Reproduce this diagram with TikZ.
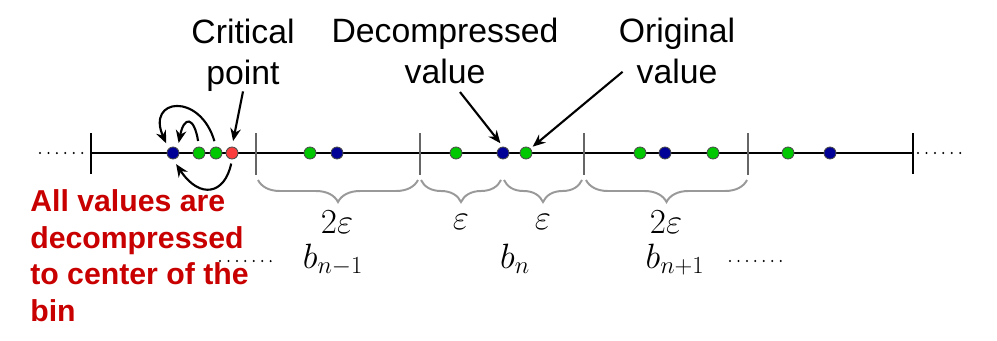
\RequirePackage{fix-cm}
\documentclass[tikz,border=0pt]{standalone}
\usepackage{amsmath}
\usepackage{fontspec}
\setmainfont{Liberation Sans}
\usepackage{tikz}
\usetikzlibrary{arrows.meta, decorations.pathreplacing}
\usepackage{xcolor}
\definecolor{ptblue}{RGB}{0,0,150}
\definecolor{ptgreen}{RGB}{0,200,0}
\definecolor{ptred}{RGB}{250,60,60}
\definecolor{notered}{RGB}{200,0,0}

\begin{document}
\begin{tikzpicture}[x=0.025cm, y=-0.025cm,
  pt/.style={circle, draw=black!70, line width=0.6pt, inner sep=0pt, minimum size=0.3cm},
  lbl/.style={align=center, font=\fontsize{24}{29}\selectfont, inner sep=0pt},
  mlbl/.style={font=\fontsize{25}{30}\selectfont, inner sep=0pt},
  arr/.style={-{Stealth[length=9pt,width=7.5pt]}, line width=1.5pt},
  brc/.style={decorate, decoration={brace, amplitude=0.55cm}, draw=black!40, line width=1.4pt},
  dotline/.style={line width=1.6pt, line cap=round, dash pattern=on 0pt off 6pt}]
\useasboundingbox (0,0) rectangle (997,341);

% number line and bin borders
\draw[line width=1pt] (91,153) -- (913,153);
\draw[line width=1pt] (91,133) -- (91,174);
\draw[line width=1pt] (913,133) -- (913,174);
\foreach \tx in {256,420,584,748}
  \draw[line width=1pt, black!60] (\tx,133) -- (\tx,175);
\draw[dotline] (40,153) -- (87,153);
\draw[dotline] (918,153) -- (965,153);

% values
\node[pt, fill=ptblue] (c0) at (173,153) {};
\node[pt, fill=ptgreen] (g1) at (199,153) {};
\node[pt, fill=ptgreen] (g2) at (216,153) {};
\node[pt, fill=ptred] (crit) at (232,153) {};
\node[pt, fill=ptblue] (dec) at (503,153) {};
\node[pt, fill=ptgreen] (orig) at (526,153) {};
\foreach \px [count=\i] in {310,456,640,713,788}
  \node[pt, fill=ptgreen] (gv\i) at (\px,153) {};
\foreach \px [count=\i] in {337,665,830}
  \node[pt, fill=ptblue] (bv\i) at (\px,153) {};

% labels on top
\node[lbl] (critlbl) at (243,55) {Critical\\point};
\node[lbl] (declbl) at (445,51) {Decompressed\\value};
\node[lbl] (origlbl) at (677,51) {Original\\value};

\draw[arr, shorten >=4pt] (critlbl.south) -- (crit.north);
\draw[arr, shorten >=3pt] ([xshift=0.375cm,yshift=-0.2cm]declbl.south) -- (dec.north);
\draw[arr, shorten >=2pt] ([xshift=0.1cm,yshift=-0.52cm]origlbl.west) -- (orig.north east);

% moves to the bin center
\draw[arr, shorten <=4pt, shorten >=4pt] (g2.north) .. controls (200,92) and (146,98) .. (c0.north west);
\draw[arr, shorten <=4pt, shorten >=4pt] (g1.north) .. controls (194,116) and (184,116) .. (c0.north east);
\draw[arr, shorten <=3pt, shorten >=4pt] (crit.south) .. controls (225,194) and (200,200) .. (c0.south);

\node[anchor=north west, align=left, inner sep=0pt, text=notered,
  font=\bfseries\fontsize{21.5}{26.2}\selectfont] (note) at (30,189)
  {All values are\\decompressed\\to center of the\\bin};

% bin widths
\draw[brc] (418,180) -- (258,180);
\draw[brc] (501,180) -- (421,180);
\draw[brc] (582,180) -- (504,180);
\draw[brc] (747,180) -- (586,180);
\node[mlbl] (w1) at (337,222) {$2\varepsilon$};
\node[mlbl] (w2) at (461,222) {$\varepsilon$};
\node[mlbl] (w3) at (543,222) {$\varepsilon$};
\node[mlbl] (w4) at (666,222) {$2\varepsilon$};

\node[mlbl, anchor=base] (bprev) at (333,268) {$b_{n-1}$};
\node[mlbl, anchor=base] (bcur) at (515,268) {$b_n$};
\node[mlbl, anchor=base] (bnext) at (675,268) {$b_{n+1}$};
\draw[dotline] (220,261) -- (272,261);
\draw[dotline] (730,261) -- (782,261);

\end{tikzpicture}
\end{document}
